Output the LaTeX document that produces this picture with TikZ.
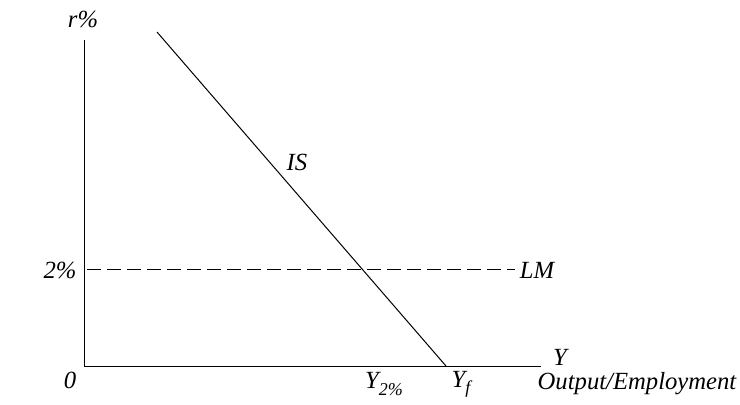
\documentclass[tikz,border=0pt]{standalone}
\usepackage{fontspec}
\setmainfont{Liberation Serif}
\begin{document}
\begin{tikzpicture}[x=0.75pt,y=-0.75pt,
  lbl/.style={font=\fontsize{18.5}{21}\selectfont\itshape, inner sep=0pt},
  sub/.style={font=\fontsize{13.5}{15}\selectfont\itshape},
  ln/.style={line width=0.75pt}]
\useasboundingbox (0,0) rectangle (740,404);
\coordinate (O) at (84,366);
\coordinate (ytop) at (84,40);
\coordinate (xend) at (541,366);
\coordinate (istop) at (157,32);
\coordinate (isbot) at (446,366);
\coordinate (lmL) at (87,269);
\coordinate (lmR) at (515,269);
\draw[ln] (ytop) -- (O) -- (xend);
\draw[ln] (istop) -- (isbot);
\draw[ln, dash pattern=on 10.5pt off 4.5pt] (lmL) -- (lmR);
\node[lbl] (r) at (83,19) {r\%};
\node[lbl] (two) at (60,270) {2\%};
\node[lbl] (zero) at (70,380) {0};
\node[lbl] (is) at (297,162) {IS};
\node[lbl] (lm) at (537,270) {LM};
\node[lbl] (y) at (560,357) {Y};
\node[lbl] (y2) at (384,384) {Y\raisebox{-0.25em}{\fontsize{13.5}{15}\selectfont 2\%}};
\node[lbl] (yf) at (461,384) {Y\raisebox{-0.25em}{\fontsize{13.5}{15}\selectfont f}};
\node[lbl] (out) at (637,384) {Output/Employment};
\end{tikzpicture}
\end{document}
